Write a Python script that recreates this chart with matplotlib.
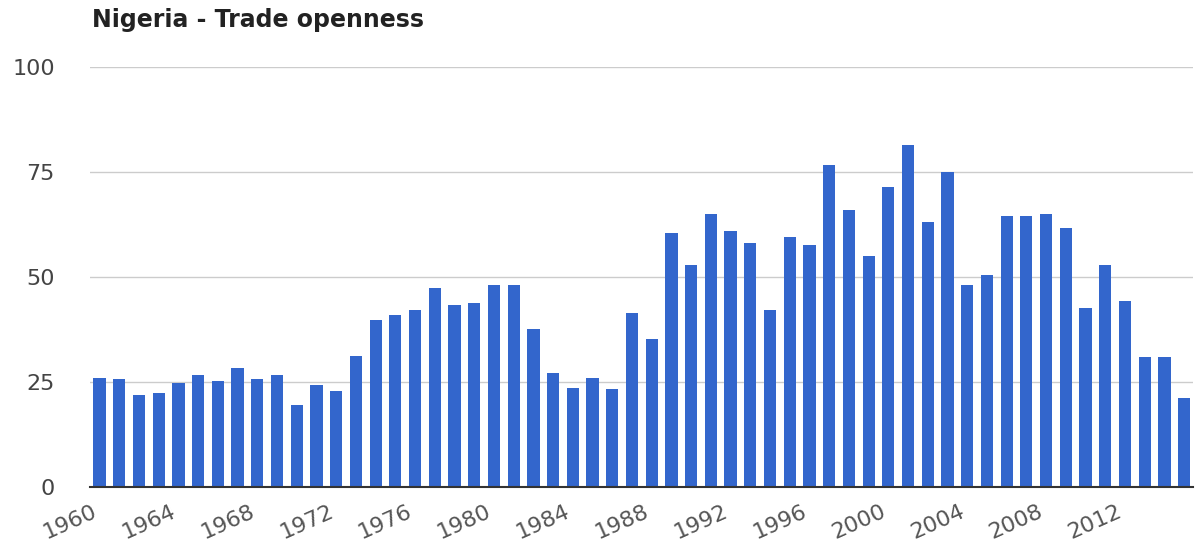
import matplotlib.pyplot as plt
import matplotlib.transforms as mtransforms
import numpy as np

# Nigeria trade openness (% of GDP)
years = np.arange(1960, 2016)
openness = [26.0, 25.7, 21.9, 22.4, 24.8, 26.7, 25.2, 28.3, 25.7, 26.7,
            19.5, 24.3, 22.9, 31.2, 39.8, 41.0, 42.1, 47.4, 43.3, 43.8,
            48.1, 48.1, 37.6, 27.1, 23.6, 26.0, 23.3, 41.4, 35.2, 60.5,
            52.9, 65.0, 61.0, 58.1, 42.1, 59.5, 57.6, 76.7, 66.0, 55.0,
            71.4, 81.4, 63.1, 75.0, 48.1, 50.5, 64.5, 64.5, 65.0, 61.7,
            42.6, 52.9, 44.3, 31.0, 31.0, 21.2]
yticks = [0, 25, 50, 75, 100]
xticks = list(range(1960, 2016, 4))

fig = plt.figure(figsize=(11.96, 5.46), dpi=100)
ax = fig.add_axes([0.075, 0.108, 0.9225, 0.769])

ax.bar(years, openness, width=0.62, color='#3366cc', zorder=3)

ax.set_ylim(0, 100)
ax.set_xlim(1959.5, 2015.45)
ax.set_yticks(yticks)
ax.set_xticks(xticks)
ax.set_xticklabels([])
# slanted year labels, placed by hand so they can be nudged
off = mtransforms.ScaledTranslation(-8 / 100, -14 / 100, fig.dpi_scale_trans)
for x in xticks:
    ax.text(x, 0, str(x), transform=ax.get_xaxis_transform() + off,
            rotation=24, rotation_mode='anchor', ha='right', va='top',
            fontsize=16, color='#555555')
ax.tick_params(axis='y', labelsize=16, labelcolor='#444444', length=0, pad=25)
ax.tick_params(axis='x', length=0)
ax.grid(axis='y', color='#cccccc', linewidth=1, zorder=0)
for s in ['top', 'right', 'left']:
    ax.spines[s].set_visible(False)
ax.spines['bottom'].set_color('#333333')
ax.spines['bottom'].set_linewidth(1.5)
ax.spines['bottom'].set_zorder(4)

fig.text(0.077, 1 - 27 / 546, 'Nigeria - Trade openness', fontsize=17,
         fontweight='bold', color='#222222', va='baseline', ha='left')

fig.savefig('out.png', dpi=100)
